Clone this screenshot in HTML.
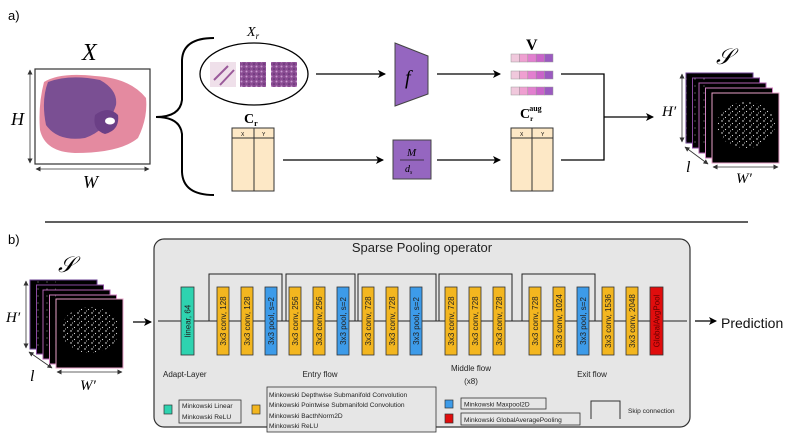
<!DOCTYPE html>
<html><head><meta charset="utf-8"><style>
html,body{margin:0;padding:0;background:#fff;}
svg{display:block;}
.sans{font-family:"Liberation Sans",sans-serif;}
.serif{font-family:"Liberation Serif",serif;font-style:italic;}
.bt{font-family:"Liberation Sans",sans-serif;font-size:8px;fill:#222;}
.lg{font-family:"Liberation Sans",sans-serif;font-size:6.6px;fill:#222;}
</style></head><body>
<svg width="791" height="445" viewBox="0 0 791 445" xmlns="http://www.w3.org/2000/svg">
<defs>
<marker id="ar" markerWidth="8" markerHeight="8" refX="7" refY="4" orient="auto" markerUnits="userSpaceOnUse"><path d="M0,0 L8,4 L0,8 L2,4 z" fill="#000"/></marker>
<marker id="sa" markerWidth="5" markerHeight="5" refX="4.5" refY="2.5" orient="auto-start-reverse" markerUnits="userSpaceOnUse"><path d="M0,0 L5,2.5 L0,5 z" fill="#333"/></marker>
<pattern id="dots" width="7" height="6" patternUnits="userSpaceOnUse"><circle cx="1" cy="1" r="0.7" fill="#fff"/><circle cx="4.5" cy="3.5" r="0.6" fill="#ddd"/><circle cx="2.5" cy="5" r="0.5" fill="#eee"/></pattern>
<pattern id="dots2" width="9" height="7" patternUnits="userSpaceOnUse"><circle cx="2" cy="2" r="0.5" fill="#ccc"/></pattern>
<pattern id="he" width="5" height="5" patternUnits="userSpaceOnUse"><rect width="5" height="5" fill="#8a4c92"/><circle cx="1.5" cy="1.5" r="1" fill="#c89ad0"/><circle cx="4" cy="4" r="0.8" fill="#5a2c70"/></pattern>
</defs>

<!-- a) -->
<text x="8" y="20" class="sans" font-size="13">a)</text>
<text x="82" y="60" class="serif" font-size="24">X</text>
<rect x="35" y="69" width="115" height="95" fill="#fff" stroke="#333" stroke-width="1.2"/>
<path d="M44,82 Q60,72 95,76 Q130,78 146,98 Q148,118 138,138 Q120,153 75,153 Q45,152 40,130 Q38,105 44,82z" fill="#e48aa0"/>
<path d="M48,82 Q70,74 100,80 Q118,90 116,105 Q108,130 85,138 Q58,142 46,125 Q41,100 48,82z" fill="#7a4f93"/>
<path d="M95,115 Q108,105 118,115 Q120,130 105,134 Q92,130 95,115z" fill="#6b3f86"/>
<ellipse cx="110" cy="121" rx="5" ry="3.5" fill="#fff"/>
<line x1="30" y1="70" x2="30" y2="163" stroke="#333" stroke-width="0.8" marker-start="url(#sa)" marker-end="url(#sa)"/>
<line x1="36" y1="169" x2="149" y2="169" stroke="#333" stroke-width="0.8" marker-start="url(#sa)" marker-end="url(#sa)"/>
<text x="11" y="125" class="serif" font-size="18">H</text>
<text x="83" y="188" class="serif" font-size="18">W</text>

<path d="M156,117 Q180,117 182,100 L182,60 Q183,38 214,38 M156,117 Q180,117 182,134 L182,172 Q183,195 214,195" fill="none" stroke="#000" stroke-width="2"/>

<ellipse cx="254" cy="74" rx="54" ry="31" fill="#fff" stroke="#000" stroke-width="1.3"/>
<text x="247" y="36" class="serif" font-size="14">X<tspan font-size="9" dy="3">r</tspan></text>
<rect x="210" y="62" width="26" height="25" fill="#efe0ea"/><path d="M214,80 L228,66 M220,85 L234,70" stroke="#9a5a9a" stroke-width="2"/>
<rect x="240" y="62" width="26" height="25" fill="url(#he)"/>
<rect x="271" y="62" width="26" height="25" fill="url(#he)"/>
<line x1="316" y1="74" x2="385" y2="74" stroke="#000" stroke-width="1.3" marker-end="url(#ar)"/>
<path d="M395,43 L428,56 L428,94 L395,106 z" fill="#9566c0" stroke="#444" stroke-width="1"/>
<text x="405" y="84" class="serif" font-size="20">f</text>
<line x1="437" y1="74" x2="500" y2="74" stroke="#000" stroke-width="1.3" marker-end="url(#ar)"/>

<text x="244" y="123" font-family="Liberation Serif,serif" font-weight="bold" font-size="14">C<tspan font-size="8" dy="3">r</tspan></text>
<rect x="232" y="128" width="42" height="63" fill="#fde8c6" stroke="#333" stroke-width="1"/>
<line x1="232" y1="138" x2="274" y2="138" stroke="#333"/><line x1="254" y1="128" x2="254" y2="191" stroke="#333"/>
<text x="241" y="136" class="sans" font-size="5">X</text><text x="262" y="136" class="sans" font-size="5">Y</text>
<line x1="283" y1="160" x2="383" y2="160" stroke="#000" stroke-width="1.3" marker-end="url(#ar)"/>
<rect x="393" y="140" width="38" height="39" fill="#9566c0" stroke="#444"/>
<text x="407" y="156" class="serif" font-size="11">M</text><line x1="400" y1="160" x2="424" y2="160" stroke="#222" stroke-width="0.8"/>
<text x="405" y="172" class="serif" font-size="10">d<tspan font-size="6" dy="2">s</tspan></text>
<line x1="437" y1="160" x2="500" y2="160" stroke="#000" stroke-width="1.3" marker-end="url(#ar)"/>

<text x="526" y="50" font-family="Liberation Serif,serif" font-weight="bold" font-size="16">V</text>
<g stroke="#999" stroke-width="0.5">
<g><rect x="511" y="54" width="8.4" height="8" fill="#f0c8dc"/><rect x="519.4" y="54" width="8.4" height="8" fill="#ef9fd1"/><rect x="527.8" y="54" width="8.4" height="8" fill="#e27fcf"/><rect x="536.2" y="54" width="8.4" height="8" fill="#c964c9"/><rect x="544.6" y="54" width="8.4" height="8" fill="#9b5ac0"/></g>
<g><rect x="511" y="71" width="8.4" height="8" fill="#f0c8dc"/><rect x="519.4" y="71" width="8.4" height="8" fill="#ef9fd1"/><rect x="527.8" y="71" width="8.4" height="8" fill="#e27fcf"/><rect x="536.2" y="71" width="8.4" height="8" fill="#c964c9"/><rect x="544.6" y="71" width="8.4" height="8" fill="#9b5ac0"/></g>
<g><rect x="511" y="87" width="8.4" height="8" fill="#f0c8dc"/><rect x="519.4" y="87" width="8.4" height="8" fill="#ef9fd1"/><rect x="527.8" y="87" width="8.4" height="8" fill="#e27fcf"/><rect x="536.2" y="87" width="8.4" height="8" fill="#c964c9"/><rect x="544.6" y="87" width="8.4" height="8" fill="#9b5ac0"/></g>
</g>
<text x="520" y="118" font-family="Liberation Serif,serif" font-weight="bold" font-size="14">C<tspan font-size="7" dy="3">r</tspan><tspan font-size="8" dx="-4" dy="-10">aug</tspan></text>
<rect x="511" y="128" width="42" height="63" fill="#fde8c6" stroke="#333" stroke-width="1"/>
<line x1="511" y1="138" x2="553" y2="138" stroke="#333"/><line x1="532" y1="128" x2="532" y2="191" stroke="#333"/>
<text x="520" y="136" class="sans" font-size="5">X</text><text x="541" y="136" class="sans" font-size="5">Y</text>
<path d="M561,74 L604,74 L604,160 L561,160" fill="none" stroke="#000" stroke-width="1.3"/>
<line x1="604" y1="117" x2="653" y2="117" stroke="#000" stroke-width="1.3" marker-end="url(#ar)"/>

<text x="716" y="64" font-family="Liberation Serif,serif" font-style="italic" font-size="22">𝒮</text>
<g stroke-width="1">
<rect x="686" y="73" width="67" height="70" fill="#000" stroke="#6a3f90"/>
<rect x="692.5" y="78" width="67" height="70" fill="#000" stroke="#8a4aa0"/>
<rect x="699" y="83" width="67" height="70" fill="#000" stroke="#b060b0"/>
<rect x="705.5" y="88" width="67" height="70" fill="#000" stroke="#d080c0"/>
<rect x="712" y="93" width="67" height="70" fill="#000" stroke="#e8a0c8"/>
</g>
<rect x="686" y="73" width="26" height="70" fill="url(#dots2)"/>
<ellipse cx="746" cy="125" rx="29" ry="23" fill="url(#dots)"/>
<line x1="682" y1="74" x2="682" y2="142" stroke="#333" stroke-width="0.8" marker-start="url(#sa)" marker-end="url(#sa)"/>
<line x1="685" y1="147" x2="708" y2="164" stroke="#333" stroke-width="0.8" marker-start="url(#sa)" marker-end="url(#sa)"/>
<line x1="713" y1="167" x2="778" y2="167" stroke="#333" stroke-width="0.8" marker-start="url(#sa)" marker-end="url(#sa)"/>
<text x="662" y="116" class="serif" font-size="15">H′</text>
<text x="686" y="172" class="serif" font-size="16">l</text>
<text x="736" y="183" class="serif" font-size="15">W′</text>

<line x1="45" y1="222" x2="748" y2="222" stroke="#000" stroke-width="1.2"/>

<text x="8" y="244" class="sans" font-size="13">b)</text>
<text x="58" y="272" font-family="Liberation Serif,serif" font-style="italic" font-size="22">𝒮</text>
<rect x="30" y="280" width="67" height="69" fill="#000" stroke="#6a3f90"/>
<rect x="36.5" y="285" width="67" height="69" fill="#000" stroke="#8a4aa0"/>
<rect x="43" y="290" width="67" height="69" fill="#000" stroke="#b060b0"/>
<rect x="49.5" y="295" width="67" height="69" fill="#000" stroke="#d080c0"/>
<rect x="56" y="299" width="67" height="69" fill="#000" stroke="#e8a0c8"/>
<rect x="30" y="280" width="26" height="69" fill="url(#dots2)"/>
<ellipse cx="90" cy="330" rx="29" ry="23" fill="url(#dots)"/>
<line x1="26" y1="281" x2="26" y2="348" stroke="#333" stroke-width="0.8" marker-start="url(#sa)" marker-end="url(#sa)"/>
<line x1="29" y1="352" x2="52" y2="368" stroke="#333" stroke-width="0.8" marker-start="url(#sa)" marker-end="url(#sa)"/>
<line x1="57" y1="372" x2="122" y2="372" stroke="#333" stroke-width="0.8" marker-start="url(#sa)" marker-end="url(#sa)"/>
<text x="6" y="322" class="serif" font-size="15">H′</text>
<text x="30" y="381" class="serif" font-size="16">l</text>
<text x="80" y="390" class="serif" font-size="15">W′</text>
<line x1="133" y1="322" x2="151" y2="322" stroke="#000" stroke-width="1.2" marker-end="url(#ar)"/>

<rect x="154" y="239" width="536" height="188" rx="10" fill="#e6e6e6" stroke="#333" stroke-width="1.2"/>
<text x="422" y="252" class="sans" font-size="13" text-anchor="middle" fill="#222">Sparse Pooling operator</text>
<line x1="158" y1="321" x2="687" y2="321" stroke="#222" stroke-width="1"/>
<g fill="none" stroke="#222" stroke-width="1">
<path d="M209,321 V274 H282 V321"/><path d="M286,321 V274 H355 V321"/><path d="M358,321 V274 H436 V321"/>
<path d="M439,321 V274 H512 V321"/><path d="M522,321 V274 H595 V321"/>
</g>
<g stroke="#333" stroke-width="0.8">
<rect x="181" y="287" width="13" height="68" fill="#2ed3b0"/>
<rect x="217" y="287" width="12" height="68" fill="#f3b61f"/><rect x="241" y="287" width="12" height="68" fill="#f3b61f"/><rect x="265" y="287" width="12" height="68" fill="#3d9be9"/>
<rect x="289" y="287" width="12" height="68" fill="#f3b61f"/><rect x="313" y="287" width="12" height="68" fill="#f3b61f"/><rect x="337" y="287" width="12" height="68" fill="#3d9be9"/>
<rect x="362" y="287" width="12" height="68" fill="#f3b61f"/><rect x="386" y="287" width="12" height="68" fill="#f3b61f"/><rect x="410" y="287" width="12" height="68" fill="#3d9be9"/>
<rect x="445" y="287" width="12" height="68" fill="#f3b61f"/><rect x="469" y="287" width="12" height="68" fill="#f3b61f"/><rect x="493" y="287" width="12" height="68" fill="#f3b61f"/>
<rect x="529" y="287" width="12" height="68" fill="#f3b61f"/><rect x="553" y="287" width="12" height="68" fill="#f3b61f"/><rect x="577" y="287" width="12" height="68" fill="#3d9be9"/>
<rect x="602" y="287" width="12" height="68" fill="#f3b61f"/><rect x="626" y="287" width="12" height="68" fill="#f3b61f"/><rect x="650" y="287" width="13" height="68" fill="#e00d0d"/>
</g>
<g class="bt">
<text transform="translate(190.5,321) rotate(-90)" text-anchor="middle">linear, 64</text>
<text transform="translate(226,321) rotate(-90)" text-anchor="middle">3x3 conv, 128</text>
<text transform="translate(250,321) rotate(-90)" text-anchor="middle">3x3 conv, 128</text>
<text transform="translate(274,321) rotate(-90)" text-anchor="middle">3x3 pool, s=2</text>
<text transform="translate(298,321) rotate(-90)" text-anchor="middle">3x3 conv, 256</text>
<text transform="translate(322,321) rotate(-90)" text-anchor="middle">3x3 conv, 256</text>
<text transform="translate(346,321) rotate(-90)" text-anchor="middle">3x3 pool, s=2</text>
<text transform="translate(371,321) rotate(-90)" text-anchor="middle">3x3 conv, 728</text>
<text transform="translate(395,321) rotate(-90)" text-anchor="middle">3x3 conv, 728</text>
<text transform="translate(419,321) rotate(-90)" text-anchor="middle">3x3 pool, s=2</text>
<text transform="translate(454,321) rotate(-90)" text-anchor="middle">3x3 conv, 728</text>
<text transform="translate(478,321) rotate(-90)" text-anchor="middle">3x3 conv, 728</text>
<text transform="translate(502,321) rotate(-90)" text-anchor="middle">3x3 conv, 728</text>
<text transform="translate(538,321) rotate(-90)" text-anchor="middle">3x3 conv, 728</text>
<text transform="translate(562,321) rotate(-90)" text-anchor="middle">3x3 conv, 1024</text>
<text transform="translate(586,321) rotate(-90)" text-anchor="middle">3x3 pool, s=2</text>
<text transform="translate(611,321) rotate(-90)" text-anchor="middle">3x3 conv, 1536</text>
<text transform="translate(635,321) rotate(-90)" text-anchor="middle">3x3 conv, 2048</text>
<text transform="translate(659.5,321) rotate(-90)" text-anchor="middle" fill="#600">GlobalAvgPool</text>
</g>
<g class="sans" font-size="8" fill="#222">
<text x="163" y="377">Adapt-Layer</text>
<text x="320" y="377" text-anchor="middle">Entry flow</text>
<text x="471" y="371" text-anchor="middle">Middle flow</text>
<text x="471" y="384" text-anchor="middle">(x8)</text>
<text x="592" y="377" text-anchor="middle">Exit flow</text>
</g>
<rect x="164" y="405" width="8" height="9" fill="#2ed3b0" stroke="#333" stroke-width="0.7"/>
<rect x="179" y="400" width="62" height="23" fill="#e6e6e6" stroke="#333" stroke-width="0.8"/>
<text x="182" y="408" class="lg">Minkowski Linear</text><text x="182" y="419" class="lg">Minkowski ReLU</text>
<rect x="252" y="405" width="8" height="9" fill="#f3b61f" stroke="#333" stroke-width="0.7"/>
<rect x="267" y="387" width="169" height="45" fill="#e6e6e6" stroke="#333" stroke-width="0.8"/>
<text x="269" y="397" class="lg">Minkowski Depthwise Submanifold Convolution</text>
<text x="269" y="407" class="lg">Minkowski Pointwise Submanifold Convolution</text>
<text x="269" y="418" class="lg">Minkowski BacthNorm2D</text>
<text x="269" y="428" class="lg">Minkowski ReLU</text>
<rect x="445" y="400" width="8" height="8" fill="#3d9be9" stroke="#333" stroke-width="0.7"/>
<rect x="461" y="398" width="85" height="11" fill="#e6e6e6" stroke="#333" stroke-width="0.8"/>
<text x="464" y="406.5" class="lg">Minkowski Maxpool2D</text>
<rect x="445" y="414" width="8" height="9" fill="#e00d0d" stroke="#333" stroke-width="0.7"/>
<rect x="461" y="413" width="119" height="12" fill="#e6e6e6" stroke="#333" stroke-width="0.8"/>
<text x="464" y="422" class="lg">Minkowski GlobalAveragePooling</text>
<path d="M591,419 V401 H620 V419" fill="none" stroke="#333" stroke-width="1"/>
<text x="628" y="413" class="lg">Skip connection</text>

<line x1="695" y1="321" x2="716" y2="321" stroke="#000" stroke-width="1.2" marker-end="url(#ar)"/>
<text x="721" y="328" class="sans" font-size="14" fill="#111">Prediction</text>
</svg>
</body></html>
